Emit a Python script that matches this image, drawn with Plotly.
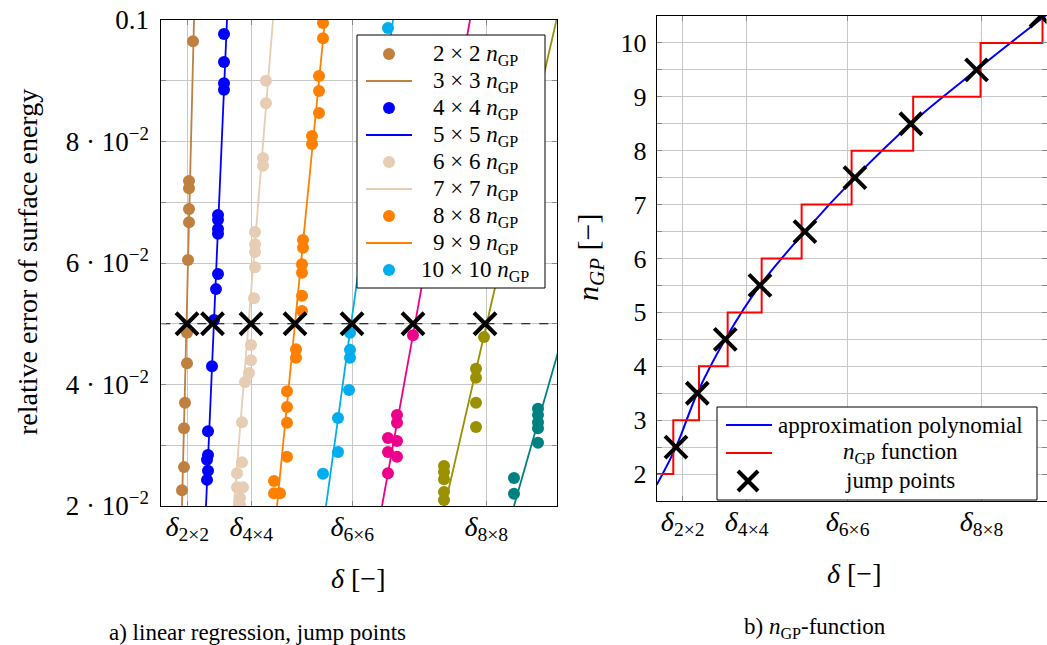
import plotly.graph_objects as go

FONT = "Liberation Serif"
W, H = 1047, 645

# ---------------- left panel data (delta in arbitrary units, relative error) ----------------
brown_d = [0.317, 0.277, 0.277, 0.277, 0.277, 0.267, 0.257, 0.257, 0.237, 0.227, 0.227, 0.207]
brown_e = [0.0965, 0.0735, 0.0723, 0.0689, 0.0667, 0.0605, 0.0485, 0.0435, 0.0370, 0.0328, 0.0264, 0.0226]
brown_line_d = [0.207, 0.327]

blue_d = [0.627, 0.627, 0.627, 0.627, 0.567, 0.567, 0.567, 0.567, 0.567, 0.547, 0.527, 0.507, 0.467, 0.467, 0.457, 0.467, 0.457]
blue_e = [0.0977, 0.0931, 0.0896, 0.0885, 0.0679, 0.0671, 0.0656, 0.0648, 0.0582, 0.0557, 0.0506, 0.0430, 0.0323, 0.0284, 0.0276, 0.0258, 0.0243]
blue_line_d = [0.447, 0.657]

beige_d = [1.047, 1.047, 1.017, 1.017, 0.937, 0.937, 0.937, 0.937, 0.927, 0.897, 0.897, 0.877, 0.837, 0.807, 0.807, 0.757, 0.757, 0.817, 0.787, 0.787]
beige_e = [0.0900, 0.0863, 0.0773, 0.0760, 0.0651, 0.0631, 0.0618, 0.0593, 0.0542, 0.0465, 0.0440, 0.0419, 0.0404, 0.0338, 0.0272, 0.0254, 0.0231, 0.0231, 0.0213, 0.0202]
beige_line_d = [0.725, 1.117]

orange_d = [1.617, 1.617, 1.577, 1.577, 1.577, 1.507, 1.507, 1.417, 1.417, 1.407, 1.407, 1.407, 1.407, 1.347, 1.347, 1.257, 1.257, 1.257, 1.257, 1.127, 1.127, 1.187]
orange_e = [0.0995, 0.0970, 0.0908, 0.0883, 0.0847, 0.0809, 0.0796, 0.0638, 0.0625, 0.0598, 0.0584, 0.0546, 0.0521, 0.0458, 0.0444, 0.0389, 0.0363, 0.0337, 0.0281, 0.0241, 0.0221, 0.0221]
orange_line_d = [1.157, 1.637]

cyan_d = [2.267, 1.887, 1.887, 1.887, 1.877, 1.767, 1.767, 1.617]
cyan_e = [0.0987, 0.0485, 0.0457, 0.0444, 0.0391, 0.0345, 0.0289, 0.0253]
cyan_line_d = [1.647, 2.317]

magenta_d = [2.517, 2.357, 2.357, 2.267, 2.357, 2.267, 2.357, 2.267]
magenta_e = [0.0481, 0.0350, 0.0337, 0.0312, 0.0307, 0.0289, 0.0281, 0.0254]
magenta_line_d = [2.207, 3.087]

olive_d = [3.227, 3.147, 3.147, 3.147, 3.147, 2.827, 2.827, 2.827, 2.827, 2.827]
olive_e = [0.0478, 0.0426, 0.0411, 0.0370, 0.0330, 0.0266, 0.0256, 0.0244, 0.0223, 0.0210]
olive_line_d = [2.835, 3.952]

teal_d = [3.767, 3.767, 3.767, 3.767, 3.767, 3.527, 3.527]
teal_e = [0.0360, 0.0350, 0.0338, 0.0328, 0.0304, 0.0246, 0.0220]
teal_line_d = [3.527, 4.917]

line_e = [0.02, 0.10]          # error values at the two ends of each regression line
threshold_e = 0.05
jump_d_left = [0.257, 0.512, 0.897, 1.337, 1.907, 2.517, 3.237]

# ---------------- right panel data ----------------
poly_d = [0.0, 0.193, 0.406, 0.686, 1.033, 1.483, 1.983, 2.543, 3.200, 3.850, 3.90]
poly_n = [1.80, 2.5, 3.5, 4.5, 5.5, 6.5, 7.5, 8.5, 9.5, 10.45, 10.52]
step_d = [0.0, 0.166, 0.423, 0.710, 1.050, 1.450, 1.950, 2.566, 3.240, 3.860, 3.90]
step_n = [2, 3, 4, 5, 6, 7, 8, 9, 10, 11, 11]
jump_d_right = [0.193, 0.406, 0.686, 1.033, 1.483, 1.983, 2.543, 3.200, 3.845]
jump_n_right = [2.5, 3.5, 4.5, 5.5, 6.5, 7.5, 8.5, 9.5, 10.5]

delta_tickvals = [0.26, 0.90, 1.91, 3.25]
delta_ticktext = ["<i>δ</i><sub>2×2</sub>", "<i>δ</i><sub>4×4</sub>", "<i>δ</i><sub>6×6</sub>", "<i>δ</i><sub>8×8</sub>"]
err_tickvals = [0.02, 0.04, 0.06, 0.08, 0.10]
err_ticktext = ["2 · 10<sup>−2</sup>", "4 · 10<sup>−2</sup>", "6 · 10<sup>−2</sup>", "8 · 10<sup>−2</sup>", "0.1"]
n_tickvals = [2, 3, 4, 5, 6, 7, 8, 9, 10]

colors = ["#bf8040", "#0000ff", "#e6cdb3", "#ff8000", "#00aeef", "#ec008c", "#9a9000", "#008080"]
series = [
    (brown_d, brown_e, brown_line_d),
    (blue_d, blue_e, blue_line_d),
    (beige_d, beige_e, beige_line_d),
    (orange_d, orange_e, orange_line_d),
    (cyan_d, cyan_e, cyan_line_d),
    (magenta_d, magenta_e, magenta_line_d),
    (olive_d, olive_e, olive_line_d),
    (teal_d, teal_e, teal_line_d),
]
legend_names = ["2 × 2 <i>n</i><sub>GP</sub>", "3 × 3 <i>n</i><sub>GP</sub>", "4 × 4 <i>n</i><sub>GP</sub>",
                "5 × 5 <i>n</i><sub>GP</sub>", "6 × 6 <i>n</i><sub>GP</sub>", "7 × 7 <i>n</i><sub>GP</sub>",
                "8 × 8 <i>n</i><sub>GP</sub>", "9 × 9 <i>n</i><sub>GP</sub>", "10 × 10 <i>n</i><sub>GP</sub>"]
right_legend_names = ["approximation polynomial", "<i>n</i><sub>GP</sub> function", "jump points"]

fig = go.Figure()

for color, (d, e, ld) in zip(colors, series):
    fig.add_trace(go.Scatter(x=d, y=e, mode="markers", marker=dict(color=color, size=12),
                             showlegend=False, xaxis="x", yaxis="y"))
    fig.add_trace(go.Scatter(x=ld, y=line_e, mode="lines", line=dict(color=color, width=1.8),
                             showlegend=False, xaxis="x", yaxis="y"))

fig.add_trace(go.Scatter(x=[0, 3.957], y=[threshold_e, threshold_e], mode="lines",
                         line=dict(color="black", width=1, dash="dash"), showlegend=False,
                         xaxis="x", yaxis="y"))
fig.add_trace(go.Scatter(x=jump_d_left, y=[threshold_e] * len(jump_d_left), mode="markers",
                         marker=dict(symbol="x-thin", size=22, line=dict(color="black", width=4)),
                         showlegend=False, xaxis="x", yaxis="y"))

# right panel
fig.add_trace(go.Scatter(x=poly_d, y=poly_n, mode="lines", line=dict(color="#0000ff", width=2, shape="spline"),
                         name=right_legend_names[0], showlegend=False, xaxis="x2", yaxis="y2"))
fig.add_trace(go.Scatter(x=step_d, y=step_n, mode="lines", line=dict(color="#ff0000", width=2, shape="hv"),
                         name=right_legend_names[1], showlegend=False, xaxis="x2", yaxis="y2"))
fig.add_trace(go.Scatter(x=jump_d_right, y=jump_n_right, mode="markers",
                         marker=dict(symbol="x-thin", size=22, line=dict(color="black", width=4)),
                         name=right_legend_names[2], showlegend=False, xaxis="x2", yaxis="y2"))


def PX(p):
    return p / W


def PY(p):
    return (H - p) / H


def note(text, x, y, size, angle=0):
    return dict(text=text, x=PX(x), y=PY(y), xref="paper", yref="paper", showarrow=False,
                xanchor="center", yanchor="middle", textangle=angle,
                font=dict(family=FONT, size=size, color="black"))


shapes = []
annotations = []

# ---- left legend (drawn as a boxed key) ----
shapes.append(dict(type="rect", xref="paper", yref="paper", x0=PX(357), x1=PX(545), y0=PY(288), y1=PY(35),
                   line=dict(color="black", width=1), fillcolor="white", layer="above"))
leg_colors = ["#bf8040", "#bf8040", "#0000ff", "#0000ff", "#e6cdb3", "#e6cdb3", "#ff8000", "#ff8000", "#00aeef"]
for i, (nm, c) in enumerate(zip(legend_names, leg_colors)):
    cy = 54 + 27 * i
    if i % 2 == 0:
        shapes.append(dict(type="circle", xref="paper", yref="paper", x0=PX(389 - 6), x1=PX(389 + 6),
                           y0=PY(cy + 6), y1=PY(cy - 6), fillcolor=c, line=dict(color=c, width=0), layer="above"))
    else:
        shapes.append(dict(type="line", xref="paper", yref="paper", x0=PX(366), x1=PX(412), y0=PY(cy), y1=PY(cy),
                           line=dict(color=c, width=1.8), layer="above"))
    annotations.append(note(nm, 475, cy + 1, 23))

# ---- right legend ----
shapes.append(dict(type="rect", xref="paper", yref="paper", x0=PX(717), x1=PX(1037), y0=PY(500), y1=PY(407),
                   line=dict(color="black", width=1), fillcolor="white", layer="above"))
rl_y = [425, 453, 481]
shapes.append(dict(type="line", xref="paper", yref="paper", x0=PX(726), x1=PX(772), y0=PY(rl_y[0]), y1=PY(rl_y[0]),
                   line=dict(color="#0000ff", width=2), layer="above"))
shapes.append(dict(type="line", xref="paper", yref="paper", x0=PX(726), x1=PX(772), y0=PY(rl_y[1]), y1=PY(rl_y[1]),
                   line=dict(color="#ff0000", width=2), layer="above"))
for sgn in (1, -1):
    shapes.append(dict(type="line", xref="paper", yref="paper", x0=PX(748 - 10), x1=PX(748 + 10),
                       y0=PY(rl_y[2] - 10 * sgn), y1=PY(rl_y[2] + 10 * sgn),
                       line=dict(color="black", width=4), layer="above"))
for nm, cy in zip(right_legend_names, rl_y):
    annotations.append(note(nm, 900, cy, 23))

# ---- axis titles and captions ----
annotations += [
    note("relative error of surface energy", 27, 262, 28, -90),
    note("<i>n</i><sub><i>GP</i></sub> [−]", 590, 258, 30, -90),
    note("<i>δ</i> [−]", 358, 578, 28),
    note("<i>δ</i> [−]", 854, 573, 28),
    note("a) linear regression, jump points", 257, 632, 23),
    note("b) <i>n</i><sub>GP</sub>-function", 815, 628, 23),
]

grid = "#c8c8c8"


def axis_style(fs, standoff):
    return dict(showline=True, linecolor="black", linewidth=1, mirror="ticks", automargin=False,
                ticks="inside", ticklen=5, tickcolor="#888888", gridcolor=grid, gridwidth=1, showgrid=True,
                zeroline=False, ticklabelstandoff=standoff, tickfont=dict(family=FONT, size=fs, color="black"))


fig.update_layout(
    template="none",
    width=W, height=H, margin=dict(l=0, r=0, t=0, b=0, pad=0), autosize=False,
    paper_bgcolor="white", plot_bgcolor="white",
    font=dict(family=FONT, color="black"),
    showlegend=False,
    xaxis=dict(domain=[PX(161.3), PX(557)], range=[0, 3.957], tickvals=delta_tickvals,
               ticktext=delta_ticktext, anchor="y", **axis_style(28, -5)),
    yaxis=dict(domain=[PY(506), PY(20)], range=[0.02, 0.1], tickvals=err_tickvals,
               ticktext=err_ticktext, anchor="x",
               minor=dict(tickvals=[0.03, 0.05, 0.07, 0.09], showgrid=True, gridcolor=grid,
                          ticks="inside", ticklen=5, tickcolor="#888888"),
               **axis_style(27, 6)),
    xaxis2=dict(domain=[PX(656.7), PX(1046.5)], range=[0, 3.90], tickvals=delta_tickvals,
                ticktext=delta_ticktext, anchor="y2", **axis_style(28, -5)),
    yaxis2=dict(domain=[PY(501), PY(16)], range=[1.5, 10.5], tickvals=n_tickvals, anchor="x2",
                minor=dict(tickvals=[1.5 + i for i in range(10)], showgrid=True, gridcolor=grid,
                           ticks="inside", ticklen=5, tickcolor="#888888"),
                **axis_style(26, 4)),
    shapes=shapes,
    annotations=annotations,
)

fig.write_html("out.html")
